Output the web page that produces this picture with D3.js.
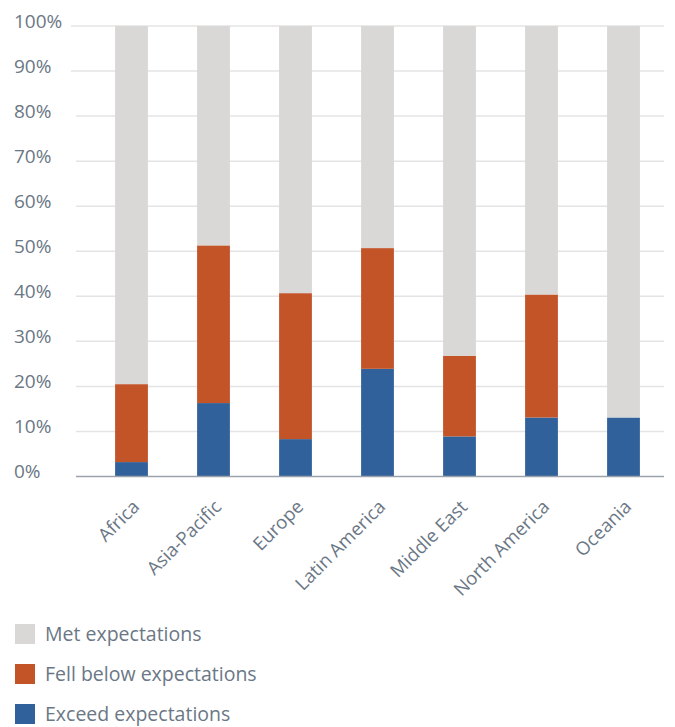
<!DOCTYPE html>
<html><head><meta charset="utf-8">
<script src="https://cdn.jsdelivr.net/npm/d3@7"></script>
<style>body{margin:0;background:#fff;font-family:"Open Sans","Noto Sans",sans-serif;}</style>
</head><body><svg id="c" width="675" height="727"></svg>
<script>
const categories = ["Africa","Asia-Pacific","Europe","Latin America","Middle East","North America","Oceania"];
const exceed = [3.2, 16.3, 8.3, 23.9, 8.9, 13.1, 13.1];
const fellBelow = [17.3, 35.0, 32.4, 26.8, 17.9, 27.3, 0];
const met = categories.map((c,i)=> 100 - exceed[i] - fellBelow[i]);
const seriesNames = ["Exceed expectations","Fell below expectations","Met expectations"];
const legendOrder = ["Met expectations","Fell below expectations","Exceed expectations"];
const colors = {"Exceed expectations":"#31619a","Fell below expectations":"#c25428","Met expectations":"#d9d8d6"};
const yTicks = [0,10,20,30,40,50,60,70,80,90,100];

const svg = d3.select("#c");
const textColor = "#6b7785";
const x = d3.scaleBand().domain(categories).range([90.5,664.5]).paddingInner(0.6).paddingOuter(0.3);
const y = d3.scaleLinear().domain([0,100]).range([476.5,26]);

// gridlines
svg.append("g").selectAll("line").data(yTicks.filter(d=>d>0)).join("line")
  .attr("x1", d=> d>=90 ? 71 : 76).attr("x2",664)
  .attr("y1", d=>y(d)).attr("y2", d=>y(d))
  .attr("stroke","#e4e4e4").attr("stroke-width",1.5);

// y labels
svg.append("g").selectAll("text").data(yTicks).join("text")
  .attr("x",14).attr("y", d=>y(d)+1.5)
  .attr("fill",textColor).attr("font-size",19)
  .text(d=>d+"%");

// stacked bars
const table = categories.map((c,i)=>({cat:c,"Exceed expectations":exceed[i],"Fell below expectations":fellBelow[i],"Met expectations":met[i]}));
const stack = d3.stack().keys(seriesNames)(table);
svg.append("g").selectAll("g").data(stack).join("g")
  .attr("fill", d=>colors[d.key])
  .selectAll("rect").data(d=>d).join("rect")
  .attr("x", d=>x(d.data.cat)).attr("width", x.bandwidth())
  .attr("y", d=>y(d[1])).attr("height", d=>y(d[0])-y(d[1]));

// x axis line
svg.append("line").attr("x1",76).attr("x2",664).attr("y1",y(0)).attr("y2",y(0))
  .attr("stroke","#9aa3ad").attr("stroke-width",1.5);

// x labels
svg.append("g").selectAll("text").data(categories).join("text")
  .attr("transform", d=>`translate(${x(d)+x.bandwidth()/2+9},${508}) rotate(-45)`)
  .attr("text-anchor","end")
  .attr("fill",textColor).attr("font-size",18.5)
  .text(d=>d);

// legend
const lg = svg.append("g").selectAll("g").data(legendOrder).join("g")
  .attr("transform",(d,i)=>`translate(15,${624+i*40})`);
lg.append("rect").attr("width",20).attr("height",20).attr("fill",d=>colors[d]);
lg.append("text").attr("x",30).attr("y",16.5).attr("fill",textColor).attr("font-size",19.5).text(d=>d);
</script></body></html>
